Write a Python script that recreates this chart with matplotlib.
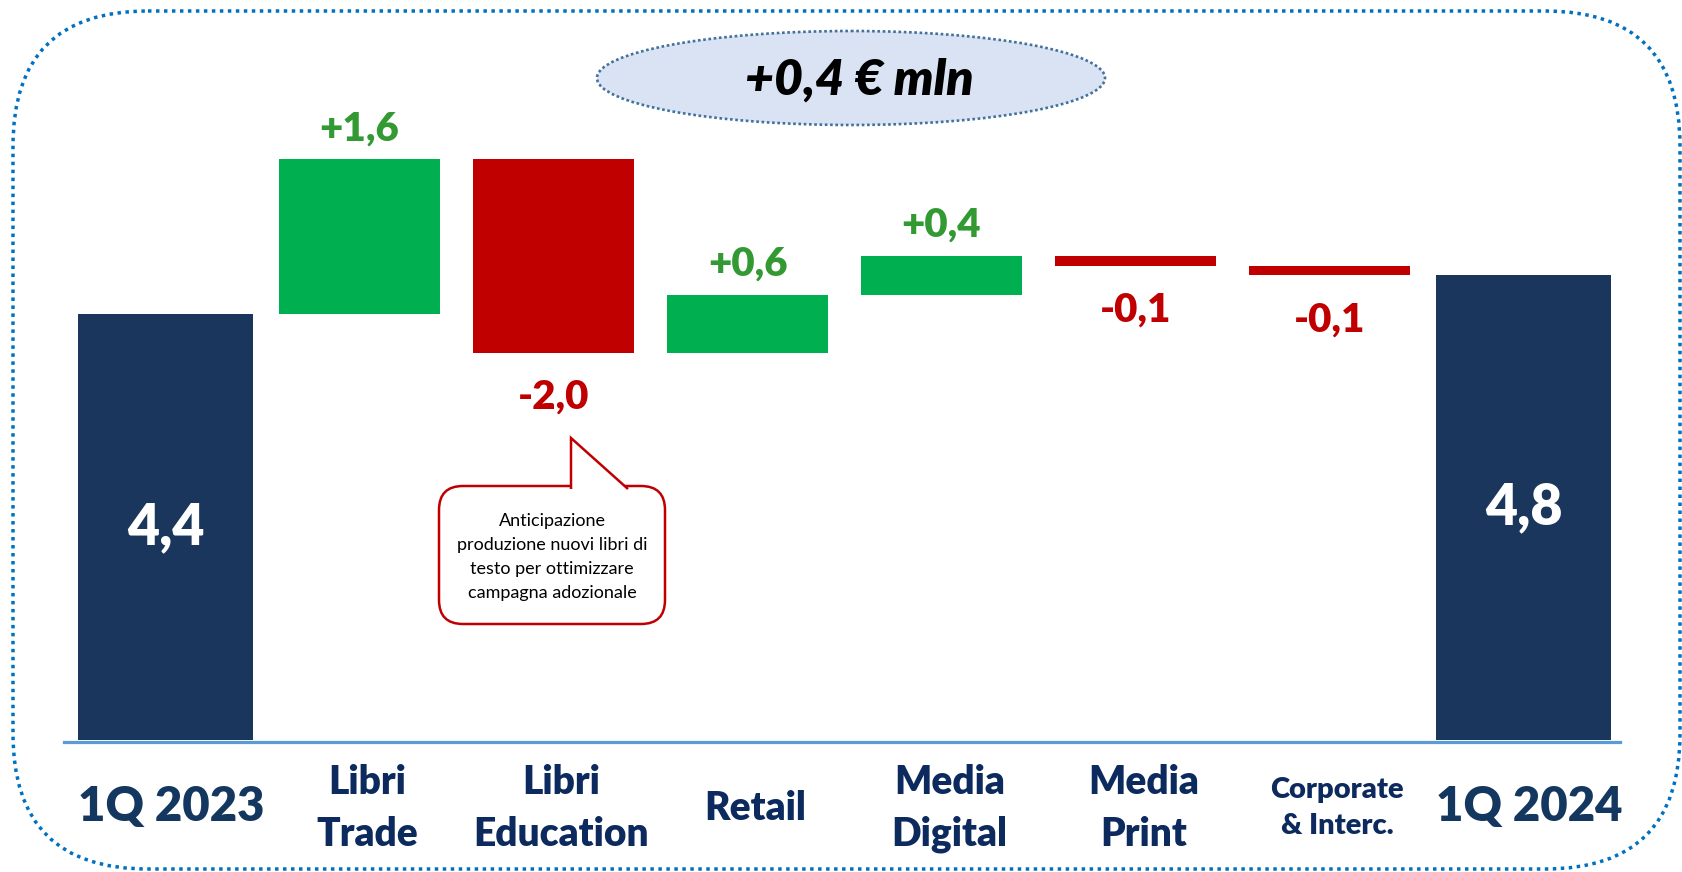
import numpy as np
import matplotlib
matplotlib.use("Agg")
import matplotlib.pyplot as plt
from matplotlib.patches import FancyBboxPatch, Ellipse, Polygon

plt.rcParams['font.family'] = ['Lato', 'DejaVu Sans']

# dati del grafico (€ mln)
categorie = ["1Q 2023", "Libri\nTrade", "Libri\nEducation", "Retail",
             "Media\nDigital", "Media\nPrint", "Corporate\n& Interc.", "1Q 2024"]
valore_iniziale = 4.4
variazioni = [1.6, -2.0, 0.6, 0.4, -0.1, -0.1]
valore_finale = 4.8
titolo = "+0,4 € mln"
nota = "Anticipazione\nproduzione nuovi libri di\ntesto per ottimizzare\ncampagna adozionale"

# colori
BLU = '#1a365d'
VERDE = '#00b050'
ROSSO = '#c00000'
VERDE_TXT = '#339933'
BLU_TXT = '#0c2a5e'
PESO = 'heavy'

W, H = 1682, 872
fig = plt.figure(figsize=(W / 100, H / 100), dpi=100)

# assi decorativi in pixel
deco = fig.add_axes([0, 0, 1, 1])
deco.set_xlim(0, W)
deco.set_ylim(H, 0)
deco.axis('off')

# assi del grafico: 1 unità x = 194 px, 1 € mln = 96.8 px
x0, dx, y0, dy = 165.5, 194.0, 740.0, 96.8
ax = fig.add_axes([0, 0, 1, 1])
ax.set_xlim(-x0 / dx, (W - x0) / dx)
ax.set_ylim(-(H - y0) / dy, y0 / dy)
ax.axis('off')
ax.patch.set_alpha(0)


def fmt(v):
    return f"{v:+.1f}".replace('.', ',')


# barre iniziale e finale
n = len(categorie)
ax.bar(0, valore_iniziale, width=0.9, color=BLU, zorder=3)
ax.bar(n - 1, valore_finale, width=0.9, color=BLU, zorder=3)
ax.text(0, valore_iniziale / 2, f"{valore_iniziale:.1f}".replace('.', ','),
        ha='center', va='center', color='white', fontsize=40, fontweight=PESO)
ax.text(n - 1, valore_finale / 2, f"{valore_finale:.1f}".replace('.', ','),
        ha='center', va='center', color='white', fontsize=40, fontweight=PESO)

# barre delle variazioni
base = valore_iniziale
for i, v in enumerate(variazioni, start=1):
    colore = VERDE if v > 0 else ROSSO
    ax.bar(i, abs(v), bottom=min(base, base + v), width=0.83, color=colore, zorder=3)
    if v > 0:
        ax.annotate(fmt(v), (i, base + v), xytext=(0, 22), textcoords='offset points',
                    ha='center', va='center', color=VERDE_TXT, fontsize=29, fontweight=PESO)
    else:
        ax.annotate(fmt(v), (i, base + v), xytext=(0, -32), textcoords='offset points',
                    ha='center', va='center', color=ROSSO, fontsize=29, fontweight=PESO)
    base += v

# linea di base
ax.plot([-0.523, 7.497], [-0.02, -0.02], color='#5b9bd5', lw=2.3, zorder=2)

# etichette delle categorie
for i, c in enumerate(categorie):
    if i in (0, n - 1):
        ax.text(i + 0.03, -0.69, c, ha='center', va='center', color='#13375f',
                fontsize=34, fontweight=PESO)
    elif c.startswith("Corporate"):
        ax.text(i + 0.04, -0.70, c, ha='center', va='center', color=BLU_TXT,
                fontsize=21, fontweight=PESO, linespacing=1.5)
    else:
        ax.text(i + 0.04, -0.71, c, ha='center', va='center', color=BLU_TXT,
                fontsize=28, fontweight=PESO, linespacing=1.5)

# cornice esterna tratteggiata
cornice = FancyBboxPatch((13, 11), 1667, 858, boxstyle="round,pad=0,rounding_size=135",
                         fc='none', ec='#0070c0', lw=2.5, ls=(0, (1, 1.3)))
deco.add_patch(cornice)

# ellisse del titolo
deco.add_patch(Ellipse((851, 78), 508, 94, fc='#dae3f3', ec='#41719c', lw=1.9,
                       ls=(0, (1, 1))))
deco.text(859, 80, titolo, ha='center', va='center', fontsize=36,
          fontweight=PESO, fontstyle='italic', color='black')

# fumetto della nota
deco.add_patch(FancyBboxPatch((439, 486), 226, 138, boxstyle="round,pad=0,rounding_size=24",
                              fc='white', ec=ROSSO, lw=1.8))
deco.add_patch(Polygon([(571, 489), (571, 438), (628, 489)], closed=False,
                       fc='white', ec=ROSSO, lw=1.8))
deco.text(552, 557, nota, ha='center', va='center', fontsize=13, color='black',
          linespacing=1.6)

fig.savefig("out.png", dpi=100)
